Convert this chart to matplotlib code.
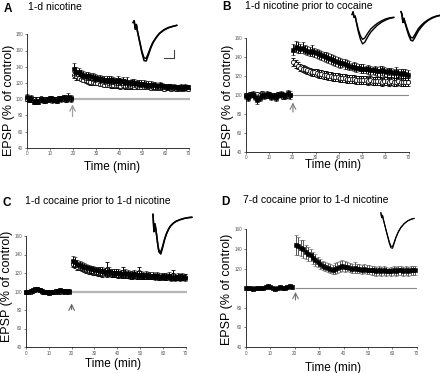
import numpy as np
import matplotlib
matplotlib.use("Agg")
import matplotlib.pyplot as plt

plt.rcParams['font.family'] = ['Liberation Sans', 'DejaVu Sans']

W, H = 440, 373

# ---------------- data ----------------
t_base = np.arange(0, 20, 1.0)          # 20 baseline samples (min)
t_post = np.arange(20.5, 70, 1.0)       # 50 post samples (min)

# Panel A : 1-d nicotine
a_base_f = [102, 99, 101, 97, 98, 97, 100, 99, 98, 100, 101, 99, 100, 98, 101, 100, 102, 100, 103, 101]
a_base_o = [100, 101, 99, 100, 99, 100, 101, 99, 100, 99, 100, 101, 99, 100, 100, 101, 100, 99, 101, 100]
a_sem_base_f = [4, 3, 4, 3, 4, 3, 3, 4, 3, 3, 3, 4, 3, 3, 3, 4, 3, 3, 5, 4]
a_sem_base_o = [2, 2, 2, 2, 2, 2, 2, 2, 2, 2, 2, 2, 2, 2, 2, 2, 2, 2, 2, 2]
a_post_f = [137, 134, 133, 131, 130, 129, 128, 128, 127, 126,
            126, 125, 125, 124, 124, 123, 124, 123, 122, 123,
            122, 122, 121, 121, 120, 121, 120, 120, 119, 119,
            119, 118, 118, 118, 117, 117, 116, 117, 116, 116,
            115, 116, 115, 115, 115, 114, 115, 114, 115, 115]
a_post_o = [130, 128, 126, 125, 124, 123, 122, 121, 121, 120,
            120, 119, 119, 118, 118, 118, 117, 117, 117, 117,
            116, 117, 116, 116, 116, 116, 115, 116, 115, 115,
            115, 115, 115, 114, 115, 114, 114, 114, 114, 113,
            114, 114, 113, 114, 113, 114, 113, 113, 114, 113]
a_sem_post_f = [7, 6, 5, 5, 5, 5, 5, 4, 5, 5, 4, 5, 4, 5, 4, 5, 5, 4, 4, 5,
                4, 5, 4, 6, 4, 4, 5, 4, 4, 4, 4, 4, 4, 4, 4, 4, 3, 4, 4, 3,
                4, 3, 4, 4, 3, 4, 4, 3, 4, 3]
a_sem_post_o = [4, 4, 3, 3, 3, 3, 3, 3, 3, 3, 3, 3, 3, 3, 3, 3, 3, 3, 3, 3,
                3, 3, 3, 3, 3, 3, 3, 3, 3, 3, 3, 3, 3, 3, 3, 3, 3, 3, 3, 3,
                3, 3, 3, 3, 3, 3, 3, 3, 3, 3]

# Panel B : 1-d nicotine prior to cocaine
b_base_f = [99, 97, 100, 101, 98, 95, 97, 100, 99, 101, 100, 98, 99, 97, 100, 101, 100, 99, 102, 100]
b_base_o = [100, 99, 101, 100, 99, 101, 100, 102, 100, 99, 101, 100, 100, 99, 101, 100, 98, 100, 99, 100]
b_sem_base_f = [3, 3, 3, 3, 3, 4, 3, 3, 3, 3, 3, 3, 3, 3, 3, 3, 3, 3, 3, 4]
b_sem_base_o = [2, 2, 2, 2, 2, 2, 2, 2, 2, 2, 2, 2, 2, 2, 2, 2, 2, 2, 2, 2]
b_post_f = [148, 151, 150, 149, 150, 148, 147, 146, 147, 145,
            144, 143, 142, 141, 140, 139, 138, 137, 136, 135,
            134, 134, 133, 132, 131, 130, 130, 129, 129, 128,
            128, 127, 127, 126, 126, 126, 125, 125, 126, 125,
            124, 125, 124, 123, 124, 123, 122, 123, 122, 121]
b_post_o = [135, 133, 131, 129, 128, 127, 126, 125, 124, 124,
            123, 122, 122, 121, 121, 120, 120, 119, 119, 119,
            118, 118, 118, 117, 117, 117, 117, 116, 116, 116,
            116, 116, 115, 116, 115, 115, 115, 115, 114, 115,
            115, 114, 115, 114, 114, 115, 114, 114, 114, 114]
b_sem_post_f = [6, 6, 6, 5, 6, 5, 5, 5, 6, 5, 5, 5, 5, 5, 5, 5, 5, 5, 5, 5,
                5, 4, 5, 5, 5, 4, 5, 5, 4, 5, 5, 4, 5, 5, 4, 5, 5, 6, 5, 5,
                5, 4, 5, 5, 6, 5, 5, 5, 6, 5]
b_sem_post_o = [4, 4, 4, 4, 4, 4, 4, 4, 4, 4, 4, 4, 4, 4, 4, 4, 4, 4, 4, 4,
                4, 4, 4, 4, 4, 4, 4, 4, 4, 4, 4, 4, 4, 4, 4, 4, 4, 4, 4, 4,
                4, 4, 4, 4, 4, 4, 4, 4, 4, 4]

# Panel C : 1-d cocaine prior to 1-d nicotine
c_base_f = [100, 100, 101, 102, 103, 103, 102, 101, 99, 100, 98, 99, 100, 101, 100, 102, 101, 100, 101, 100]
c_base_o = [99, 100, 100, 101, 102, 103, 102, 100, 100, 99, 99, 100, 99, 100, 101, 100, 100, 101, 100, 101]
c_sem_base_f = [2, 2, 2, 2, 2, 2, 2, 2, 2, 2, 2, 2, 2, 2, 2, 2, 2, 2, 2, 2]
c_sem_base_o = [2, 2, 2, 2, 2, 2, 2, 2, 2, 2, 2, 2, 2, 2, 2, 2, 2, 2, 2, 2]
c_post_f = [133, 132, 130, 129, 128, 127, 126, 125, 124, 124,
            123, 123, 122, 122, 121, 121, 122, 120, 120, 120,
            120, 119, 119, 120, 119, 118, 118, 119, 118, 118,
            118, 117, 118, 117, 117, 117, 116, 117, 116, 116,
            116, 116, 117, 115, 116, 115, 116, 115, 116, 115]
c_post_o = [130, 129, 127, 126, 125, 124, 123, 122, 122, 121,
            121, 120, 120, 119, 121, 124, 120, 119, 119, 119,
            118, 119, 121, 118, 118, 118, 117, 118, 117, 121,
            117, 117, 116, 117, 116, 116, 116, 116, 115, 116,
            116, 115, 116, 115, 118, 115, 115, 116, 115, 116]
c_sem_post_f = [5, 5, 4, 4, 4, 4, 4, 4, 4, 4, 4, 4, 4, 4, 4, 4, 4, 4, 4, 4,
                4, 4, 4, 4, 4, 4, 4, 4, 4, 4, 4, 4, 4, 4, 4, 4, 4, 4, 4, 4,
                4, 4, 4, 4, 4, 4, 4, 4, 4, 4]
c_sem_post_o = [4, 4, 4, 3, 3, 3, 3, 3, 3, 3, 3, 3, 3, 3, 3, 8, 3, 3, 3, 3,
                3, 3, 6, 3, 3, 3, 3, 3, 3, 6, 3, 3, 3, 3, 3, 3, 3, 3, 3, 3,
                3, 3, 3, 3, 5, 3, 3, 3, 3, 3]

# Panel D : 7-d cocaine prior to 1-d nicotine
d_base = [100, 100, 100, 99, 100, 100, 100, 100, 101, 102, 101, 100, 99, 100, 101, 100, 100, 101, 102, 101]
d_sem_base = [1.5, 1.5, 1.5, 1.5, 1.5, 1.5, 1.5, 1.5, 2, 2, 2, 1.5, 1.5, 1.5, 2, 1.5, 1.5, 2, 2, 2]
d_post = [144, 143, 141, 140, 137, 135, 134, 131, 129, 127,
          125, 123, 122, 121, 120, 119, 120, 121, 122, 123,
          122, 122, 121, 120, 121, 120, 120, 119, 120, 119,
          119, 118, 118, 117, 118, 117, 118, 117, 117, 117,
          118, 117, 118, 118, 117, 118, 117, 118, 118, 118]
d_sem_post = [10, 9, 8, 9, 7, 7, 6, 6, 6, 5, 5, 5, 5, 5, 5, 5, 6, 6, 6, 6,
              6, 5, 5, 5, 6, 5, 5, 5, 5, 5, 5, 5, 5, 5, 5, 5, 5, 5, 4, 5,
              5, 5, 5, 5, 5, 5, 5, 5, 5, 5]

# EPSP sample traces (normalised amplitude vs ms)
tr_t = [0, 1, 2, 3, 4, 5, 6, 8, 10, 12, 14, 16, 18, 21, 24, 28, 32, 36, 40]
trA_1 = [0.05, 0.1, -0.12, 0.0, -0.18, -0.32, -0.46, -0.74, -0.95, -0.96, -0.8, -0.63, -0.49, -0.35, -0.24, -0.15, -0.09, -0.05, -0.02]
trA_2 = [0.05, 0.1, -0.12, 0.0, -0.18, -0.31, -0.44, -0.7, -0.88, -0.89, -0.75, -0.6, -0.47, -0.34, -0.23, -0.14, -0.08, -0.05, -0.02]
trB1_1 = [0.05, 0.15, -0.05, 0.0, -0.2, -0.38, -0.55, -0.82, -0.98, -0.93, -0.8, -0.67, -0.56, -0.44, -0.33, -0.22, -0.14, -0.08, -0.05]
trB1_2 = [0.05, 0.15, -0.05, 0.0, -0.18, -0.33, -0.48, -0.7, -0.82, -0.78, -0.66, -0.55, -0.45, -0.35, -0.26, -0.17, -0.1, -0.06, -0.04]
trB2_1 = [0.1, 0.0, -0.3, -0.15, -0.3, -0.42, -0.55, -0.78, -0.95, -0.98, -0.87, -0.73, -0.6, -0.46, -0.34, -0.22, -0.14, -0.08, -0.04]
trB2_2 = [0.1, 0.0, -0.3, -0.15, -0.28, -0.38, -0.5, -0.7, -0.85, -0.87, -0.77, -0.64, -0.52, -0.4, -0.3, -0.2, -0.12, -0.07, -0.04]
trC_1 = [0.05, -0.4, -0.2, -0.35, -0.55, -0.75, -0.92, -0.98, -0.8, -0.6, -0.45, -0.34, -0.26, -0.18, -0.13, -0.09, -0.06, -0.04, -0.03]
trC_2 = [0.05, -0.4, -0.2, -0.35, -0.55, -0.74, -0.88, -0.93, -0.77, -0.58, -0.44, -0.33, -0.25, -0.18, -0.13, -0.09, -0.06, -0.04, -0.03]
trD_1 = [0.1, -0.05, 0.02, -0.1, -0.2, -0.3, -0.4, -0.6, -0.8, -0.95, -0.97, -0.82, -0.66, -0.48, -0.35, -0.23, -0.15, -0.1, -0.07]
trD_2 = [0.1, -0.05, 0.02, -0.1, -0.2, -0.3, -0.4, -0.58, -0.76, -0.9, -0.92, -0.79, -0.64, -0.47, -0.34, -0.23, -0.15, -0.1, -0.07]

x_ticks = [0, 10, 20, 30, 40, 50, 60, 70]

# ---------------- figure ----------------
fig = plt.figure(figsize=(W / 100, H / 100), dpi=100)


def rect(x0, y0, x1, y1):
    return [x0 / W, 1 - y1 / H, (x1 - x0) / W, (y1 - y0) / H]


def make_axes(r, ylim, yticks, ylabels, ylab_xy, xlab_xy):
    ax = fig.add_axes(r)
    ax.set_xlim(0, 70)
    ax.set_ylim(*ylim)
    for s in ['top', 'right']:
        ax.spines[s].set_visible(False)
    for s in ['left', 'bottom']:
        ax.spines[s].set_linewidth(0.7)
        ax.spines[s].set_color('#333333')
    ax.set_xticks(x_ticks)
    ax.set_xticklabels([str(v) for v in x_ticks])
    ax.set_yticks(yticks)
    ax.set_yticklabels(ylabels)
    ax.tick_params(length=1.5, width=0.5, pad=1.2, labelsize=3.3,
                   labelcolor='#555555', color='#444444')
    ax.set_ylabel('EPSP (% of control)', fontsize=9)
    ax.yaxis.label.set_va('center')
    ax.yaxis.set_label_coords(*ylab_xy)
    ax.set_xlabel('Time (min)', fontsize=8.5)
    ax.xaxis.label.set_va('center')
    ax.xaxis.set_label_coords(*xlab_xy)
    return ax


def series(ax, x, y, e, filled, ecolor='black', z=None):
    if filled:
        ax.errorbar(x, y, yerr=e, fmt='s', ms=3.4, mfc='black', mec='black',
                    mew=0.4, ecolor=ecolor, elinewidth=0.7, capsize=1.5,
                    capthick=0.6, zorder=z or 4, clip_on=False)
    else:
        ax.errorbar(x, y, yerr=e, fmt='o', ms=3.0, mfc='white', mec='#111111',
                    mew=0.6, ecolor=ecolor, elinewidth=0.7, capsize=1.5,
                    capthick=0.6, zorder=z or 3, clip_on=False)


def inset(r, xl, yl, traces, lw):
    ia = fig.add_axes(r)
    ia.set_xlim(*xl)
    ia.set_ylim(*yl)
    ia.axis('off')
    for tr in traces:
        ia.plot(tr_t, tr, color='black', lw=lw, solid_capstyle='round',
                solid_joinstyle='round', clip_on=False)
    return ia


def ftext(x, y, s, **kw):
    fig.text(x / W, 1 - y / H, s, va='center', **kw)


yt180 = [40, 60, 80, 100, 120, 140, 160, 180]
yt160 = [40, 60, 80, 100, 120, 140, 160]

# ---- Panel A ----
axA = make_axes(rect(26.7, 34.3, 188.7, 147.7), (40, 180), yt180,
                [str(v) for v in yt180], (-0.11, 0.42), (0.528, -0.168))
axA.hlines(100, 19.5, 70.5, color='#b5b5b5', lw=1.6, zorder=1, clip_on=False)
axA.annotate('', xy=(19.8, 97), xytext=(19.8, 75),
             arrowprops=dict(arrowstyle='->', color='#a0a0a0', lw=0.9))
series(axA, t_base, a_base_o, a_sem_base_o, False)
series(axA, t_base, a_base_f, a_sem_base_f, True)
series(axA, t_post, a_post_o, a_sem_post_o, False)
series(axA, t_post, a_post_f, a_sem_post_f, True)
iaA = inset(rect(132, 20, 178, 62.5), (-1, 41), (-1.0, 0.12), [trA_1, trA_2], 1.1)
iaA.plot([28, 37, 37], [-0.87, -0.87, -0.67], color='#444444', lw=0.8)
ftext(3.3, 9.3, 'A', fontsize=8.5, fontweight='bold')
ftext(28.3, 6.5, '1-d nicotine', fontsize=7.5)

# ---- Panel B ----
axB = make_axes(rect(245.7, 38.3, 408.7, 151.7), (40, 160), yt160,
                [str(v) for v in yt160], (-0.107, 0.45), (0.534, -0.117))
axB.hlines(100, 20, 70, color='#8a8a8a', lw=0.8, zorder=1)
axB.annotate('', xy=(20.3, 95), xytext=(20.3, 79),
             arrowprops=dict(arrowstyle='->', color='#7a7a7a', lw=0.8))
series(axB, t_base, b_base_o, b_sem_base_o, False)
series(axB, t_base, b_base_f, b_sem_base_f, True)
series(axB, t_post, b_post_o, b_sem_post_o, False)
series(axB, t_post, b_post_f, b_sem_post_f, True)
inset(rect(351, 11, 395, 45), (-1, 41), (-1.02, 0.18), [trB1_1, trB1_2], 1.0)
inset(rect(400, 11, 441, 42), (-1, 41), (-1.02, 0.12), [trB2_1, trB2_2], 1.1)
ftext(222.5, 7.5, 'B', fontsize=8.5, fontweight='bold')
ftext(245, 5.8, '1-d nicotine prior to cocaine', fontsize=7.5)

# ---- Panel C ----
axC = make_axes(rect(26, 236, 185.7, 347), (40, 160), yt160,
                [str(v) for v in yt160], (-0.117, 0.55), (0.543, -0.15))
axC.hlines(100, 20, 70.5, color='#b5b5b5', lw=1.6, zorder=1, clip_on=False)
axC.annotate('', xy=(20, 90), xytext=(20, 77.5),
             arrowprops=dict(arrowstyle='->', color='#606060', lw=0.8))
series(axC, t_base, c_base_o, c_sem_base_o, False)
series(axC, t_base, c_base_f, c_sem_base_f, True)
series(axC, t_post, c_post_o, c_sem_post_o, False)
series(axC, t_post, c_post_f, c_sem_post_f, True)
inset(rect(152, 213, 193, 256), (-1, 41), (-1.03, 0.08), [trC_1, trC_2], 1.1)
ftext(2.7, 203.5, 'C', fontsize=8.5, fontweight='bold')
ftext(25, 201, '1-d cocaine prior to 1-d nicotine', fontsize=7.5)

# ---- Panel D ----
axD = make_axes(rect(246, 229.3, 416.7, 347), (40, 160), yt160,
                ['40', '60', '80', '', '120', '140', '160'], (-0.11, 0.49), (0.51, -0.176))
axD.hlines(100, 20, 70, color='#8a8a8a', lw=0.8, zorder=1)
axD.annotate('', xy=(20.3, 99), xytext=(20.3, 85),
             arrowprops=dict(arrowstyle='->', color='#707070', lw=0.8))
series(axD, t_base, d_base, d_sem_base, True, ecolor='#444444')
series(axD, t_post, d_post, d_sem_post, True, ecolor='#555555')
inset(rect(380, 212, 415, 250), (-1, 41), (-1.02, 0.12), [trD_1, trD_2], 0.8)
ftext(221.7, 202, 'D', fontsize=8.5, fontweight='bold')
ftext(242.7, 200, '7-d cocaine prior to 1-d nicotine', fontsize=7.5)

fig.savefig('out.png', dpi=100)
